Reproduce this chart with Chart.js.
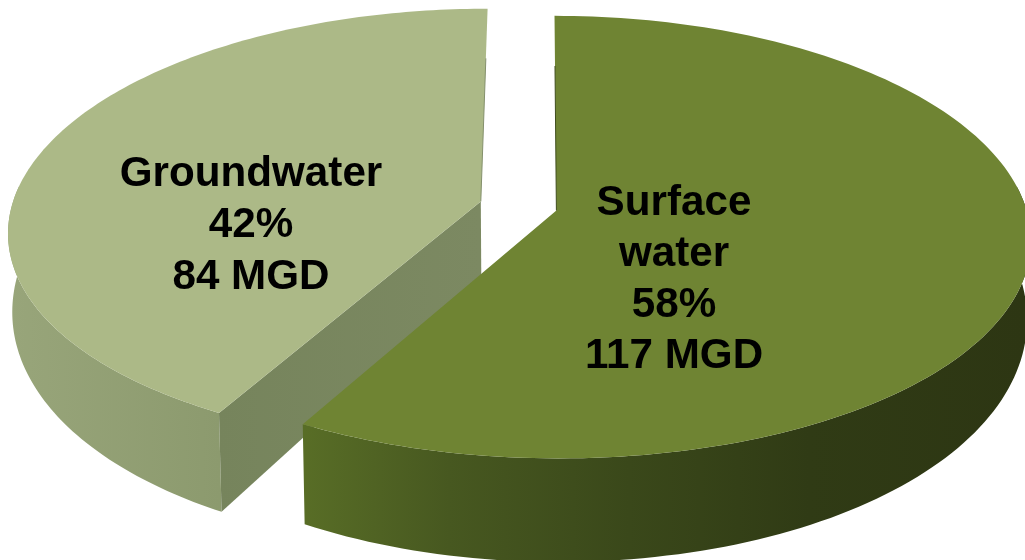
<!DOCTYPE html>
<html>
<head>
<meta charset="utf-8">
<script src="https://cdn.jsdelivr.net/npm/chart.js@4"></script>
<style>
  html, body { margin: 0; padding: 0; background: #fff; overflow: hidden; }
  canvas { display: block; }
</style>
</head>
<body>
<canvas id="chartSource" width="1025" height="560"></canvas>
<script>
// Data
const categories = ["Surface water", "Groundwater"];
const labelLines = [["Surface", "water"], ["Groundwater"]];
const percentValues = [58, 42];
const mgdValues = [117, 84];

const topColors = ["#6f8433", "#acb987"];
const labelCenters = [[674, 215], [251, 185.5]];
const lineHeights = [51, 51.5];

// Projection of the flat pie onto the tilted view
const view = { cx: 518.5, vx: 540, cy: 206, rx: 469, ry: 217, perspX: 0.13, perspY: 0.12, depthMid: 75, depthFront: 28 };

function project(u, v, down) {
    const x = view.vx + (view.cx - view.vx + view.rx * u) / (1 - view.perspX * v);
    const y = view.cy + view.ry * v / (1 - view.perspY * v);
    if (!down) return [x, y];
    return [view.vx + (x - view.vx) * 0.992, y + view.depthMid + view.depthFront * v];
}

function trace(ctx, pts) {
    ctx.beginPath();
    pts.forEach((p, i) => i ? ctx.lineTo(p[0], p[1]) : ctx.moveTo(p[0], p[1]));
    ctx.closePath();
}

function hGradient(ctx, x0, x1, stops) {
    const g = ctx.createLinearGradient(x0, 0, x1, 0);
    stops.forEach(s => g.addColorStop(s[0], s[1]));
    return g;
}

const pie3d = {
    id: "pie3d",
    beforeDatasetDraw(chart, args) {
        const ctx = chart.ctx;
        const arcs = chart.getDatasetMeta(args.index).data;
        // groundwater goes first, the surface slice sits in front of it
        [1, 0].forEach(i => {
            const arc = arcs[i];
            const mid = (arc.startAngle + arc.endAngle) / 2;
            const e = arc.options.offset / 4 / arc.outerRadius;
            const ou = Math.cos(mid) * e, ov = Math.sin(mid) * e;
            const rim = [];
            for (let n = 0; n <= 160; n++) {
                const a = arc.startAngle + (arc.endAngle - arc.startAngle) * n / 160;
                rim.push([ou + Math.cos(a), ov + Math.sin(a)]);
            }
            const apexTop = project(ou, ov, false);
            const rimTop = rim.map(p => project(p[0], p[1], false));
            // the back part of the wall is never seen
            const front = rim.filter(p => p[1] > -0.1);
            const wallTop = front.map(p => project(p[0], p[1], false));
            const wallBottom = front.map(p => project(p[0], p[1], true));

            // outer wall
            trace(ctx, wallTop.concat(wallBottom.reverse()));
            ctx.fillStyle = i === 0
                ? hGradient(ctx, 305, 1025, [[0, "#586d26"], [0.2, "#475820"], [0.45, "#3a481a"], [0.7, "#303b15"], [1, "#2d3613"]])
                : hGradient(ctx, 10, 220, [[0, "#98a57a"], [1, "#8c9a6e"]]);
            ctx.fill();

            // cut face of groundwater, facing the viewer
            if (i === 1) {
                const a = arc.startAngle;
                const corner = [ou + Math.cos(a), ov + Math.sin(a)];
                trace(ctx, [apexTop, project(corner[0], corner[1], false),
                    project(corner[0], corner[1], true), project(ou, ov, true)]);
                ctx.fillStyle = hGradient(ctx, 217, 480, [[0, "#76845c"], [1, "#7c8962"]]);
                ctx.fill();
            }

            // top face
            trace(ctx, [apexTop].concat(rimTop));
            ctx.fillStyle = topColors[i];
            ctx.fill();

            // thin shaded edge along the straight back side of each slice
            const back = project(ou, ov - 0.72, false);
            ctx.beginPath();
            ctx.moveTo(apexTop[0], apexTop[1]);
            ctx.lineTo(back[0], back[1]);
            ctx.lineWidth = 1;
            ctx.strokeStyle = i === 0 ? "#3f4d1d" : "#84906c";
            ctx.stroke();
        });

        // slice captions
        ctx.fillStyle = "#000";
        ctx.font = "bold 42.2px 'Liberation Sans', Arial, sans-serif";
        ctx.textAlign = "center";
        ctx.textBaseline = "alphabetic";
        categories.forEach((c, i) => {
            const lines = labelLines[i].concat([percentValues[i] + "%", mgdValues[i] + " MGD"]);
            lines.forEach((t, n) => ctx.fillText(t, labelCenters[i][0], labelCenters[i][1] + n * lineHeights[i]));
        });
        return false;
    }
};

new Chart(document.getElementById("chartSource").getContext("2d"), {
    type: "pie",
    data: {
        labels: categories,
        datasets: [{ data: percentValues, backgroundColor: topColors, borderWidth: 0, offset: 80 }]
    },
    options: {
        responsive: false,
        animation: false,
        layout: { padding: 0 },
        plugins: { legend: { display: false }, tooltip: { enabled: false } }
    },
    plugins: [pie3d]
});
</script>
</body>
</html>
